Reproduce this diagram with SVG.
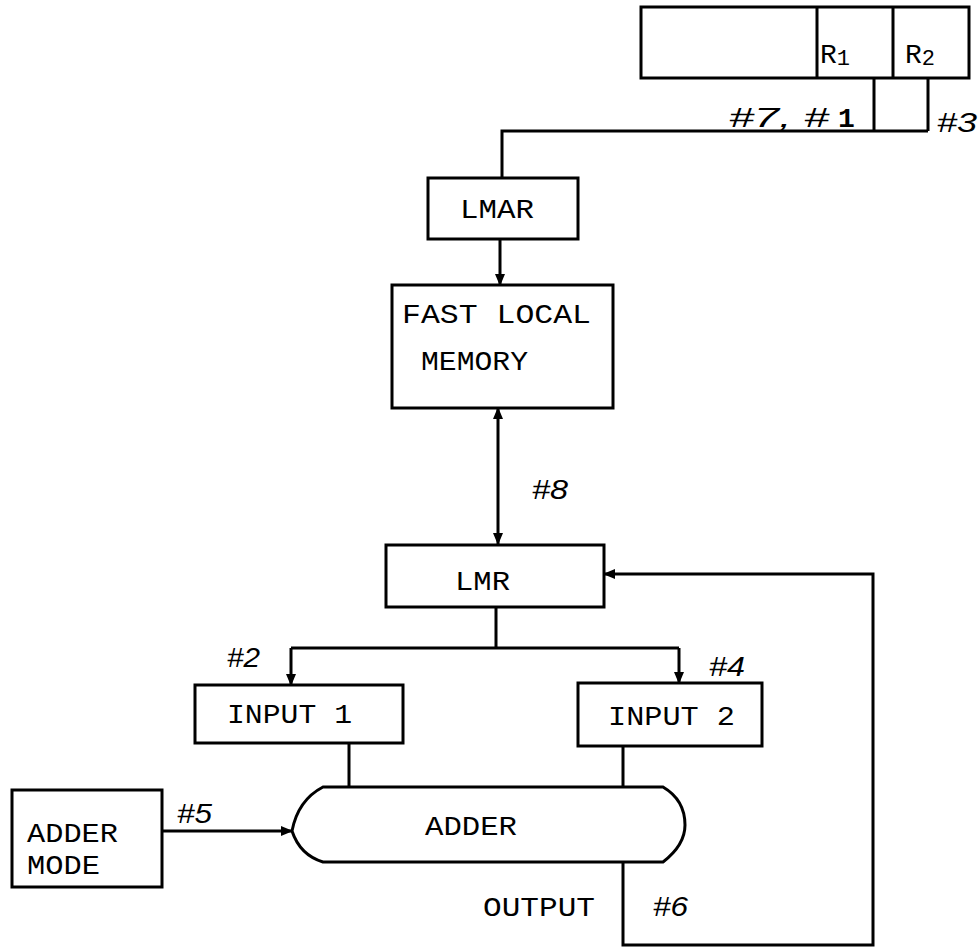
<svg xmlns="http://www.w3.org/2000/svg" width="979" height="948" viewBox="0 0 979 948">
<defs>
<style>
.box{fill:#fff;stroke:#000;stroke-width:3}
.ln{fill:none;stroke:#000;stroke-width:3}
.tw{font-family:"Liberation Mono","Courier New",monospace;font-size:28px;fill:#000}
.hw{font-family:"Liberation Sans",Arial,sans-serif;font-style:italic;font-size:27px;fill:#000}
</style>
<marker id="ah" viewBox="0 0 12 10" refX="11" refY="5" markerWidth="12" markerHeight="10" markerUnits="userSpaceOnUse" orient="auto-start-reverse">
<path d="M0,0 L12,5 L0,10 Z" fill="#000"/>
</marker>
</defs>
<rect width="979" height="948" fill="#fff"/>
<g id="connectors">
<path class="ln" d="M874,78 V131 M928,78 V131 M928,131 H502 V178"/>
<path class="ln" d="M500,239 V285" marker-end="url(#ah)"/>
<path class="ln" d="M498,408 V544" marker-start="url(#ah)" marker-end="url(#ah)"/>
<path class="ln" d="M496,607 V648 M291,648 H679"/>
<path class="ln" d="M291,648 V685" marker-end="url(#ah)"/>
<path class="ln" d="M679,648 V683" marker-end="url(#ah)"/>
<path class="ln" d="M349,743 V787 M623,746 V787"/>
<path class="ln" d="M162,831 H292" marker-end="url(#ah)"/>
<path class="ln" d="M623,862 V945 H873 V574 H604" marker-end="url(#ah)"/>
</g>
<g id="register">
<rect class="box" x="641" y="7" width="328" height="71"/>
<path class="ln" d="M817,7 V78 M893,7 V78"/>
<text class="tw" x="820" y="63">R<tspan font-size="22" dy="2">1</tspan></text>
<text class="tw" x="905" y="63">R<tspan font-size="22" dy="2">2</tspan></text>
</g>
<g id="lmar">
<rect class="box" x="428" y="178" width="150" height="61"/>
<text class="tw" x="460" y="218" textLength="74" lengthAdjust="spacingAndGlyphs">LMAR</text>
</g>
<g id="flm">
<rect class="box" x="392" y="285" width="221" height="123"/>
<text class="tw" x="402" y="323" textLength="189" lengthAdjust="spacingAndGlyphs">FAST LOCAL</text>
<text class="tw" x="421" y="370" textLength="107" lengthAdjust="spacingAndGlyphs">MEMORY</text>
</g>
<g id="lmr">
<rect class="box" x="386" y="545" width="218" height="62"/>
<text class="tw" x="455" y="590" textLength="55" lengthAdjust="spacingAndGlyphs">LMR</text>
</g>
<g id="input1">
<rect class="box" x="195" y="685" width="208" height="58"/>
<text class="tw" x="227" y="723" textLength="125" lengthAdjust="spacingAndGlyphs">INPUT 1</text>
</g>
<g id="input2">
<rect class="box" x="578" y="683" width="184" height="63"/>
<text class="tw" x="608" y="725" textLength="127" lengthAdjust="spacingAndGlyphs">INPUT 2</text>
</g>
<g id="adder">
<path class="box" d="M323,787 L663,787 Q685,800 685,825 Q685,845 663,862 L323,862 Q300,855 292,831 Q298,800 323,787 Z"/>
<text class="tw" x="425" y="835" textLength="92" lengthAdjust="spacingAndGlyphs">ADDER</text>
</g>
<g id="addermode">
<rect class="box" x="12" y="790" width="150" height="97"/>
<text class="tw" x="27" y="842" textLength="91" lengthAdjust="spacingAndGlyphs">ADDER</text>
<text class="tw" x="27" y="874" textLength="73" lengthAdjust="spacingAndGlyphs">MODE</text>
</g>
<g id="labels">
<text class="hw" x="729" y="127" textLength="100" lengthAdjust="spacingAndGlyphs">#7, #</text>
<text class="tw" x="838" y="127" font-weight="bold">1</text>
<text class="hw" x="937" y="132" textLength="40" lengthAdjust="spacingAndGlyphs">#3</text>
<text class="hw" x="532" y="499" textLength="36" lengthAdjust="spacingAndGlyphs">#8</text>
<text class="hw" x="227" y="667" font-size="22" textLength="33" lengthAdjust="spacingAndGlyphs">#2</text>
<text class="hw" x="709" y="676" textLength="36" lengthAdjust="spacingAndGlyphs">#4</text>
<text class="hw" x="177" y="823" textLength="35" lengthAdjust="spacingAndGlyphs">#5</text>
<text class="hw" x="653" y="916" textLength="35" lengthAdjust="spacingAndGlyphs">#6</text>
<text class="tw" x="483" y="916" textLength="112" lengthAdjust="spacingAndGlyphs">OUTPUT</text>
</g>
</svg>
